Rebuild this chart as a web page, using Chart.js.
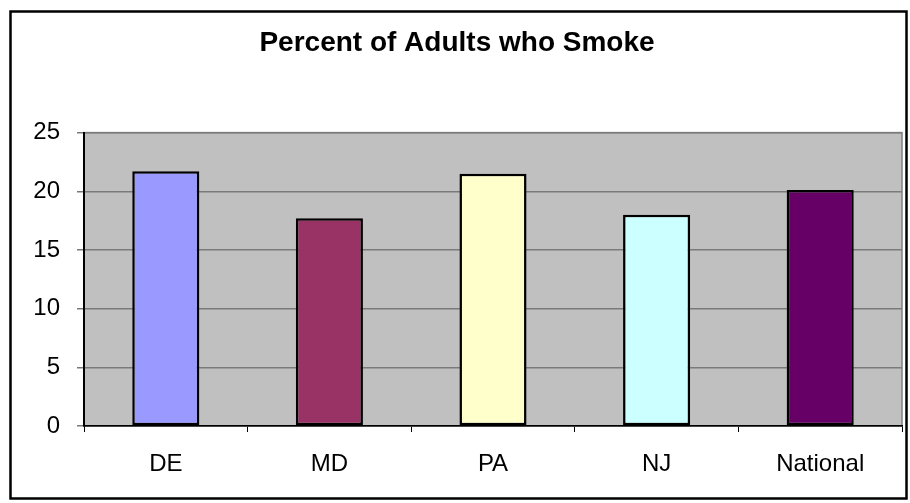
<!DOCTYPE html>
<html>
<head>
<meta charset="utf-8">
<script src="https://cdn.jsdelivr.net/npm/chart.js@4"></script>
<style>
  html, body { margin: 0; padding: 0; background: #fff; }
  #wrap { width: 910px; height: 503px; }
</style>
</head>
<body>
<div id="wrap"><canvas id="chart" width="910" height="503"></canvas></div>
<script>
const states = ["DE", "MD", "PA", "NJ", "National"];
const smokers = [21.7, 17.7, 21.5, 18.0, 20.1];
const barColors = ["#9999FF", "#993366", "#FFFFCC", "#CCFFFF", "#660066"];
const yTicks = [0, 5, 10, 15, 20, 25];

// gray plot area + outer frame
const frame = {
  id: "frame",
  beforeDraw(chart) {
    const { ctx, chartArea: a } = chart;
    ctx.save();
    ctx.fillStyle = "#C0C0C0";
    ctx.fillRect(a.left, a.top, a.right - a.left, a.bottom - a.top);
    ctx.strokeStyle = "#808080";
    ctx.lineWidth = 1.5;
    ctx.strokeRect(a.left, a.top, a.right - a.left, a.bottom - a.top);
    ctx.restore();
  },
  afterDraw(chart) {
    const ctx = chart.ctx;
    ctx.save();
    ctx.strokeStyle = "#000";
    ctx.lineWidth = 2.5;
    ctx.strokeRect(10.5, 11.5, 896, 487);
    ctx.restore();
  }
};

new Chart(document.getElementById("chart").getContext("2d"), {
  type: "bar",
  data: {
    labels: states,
    datasets: [{
      data: smokers,
      backgroundColor: barColors,
      borderColor: "#000",
      borderWidth: 2.5,
      borderSkipped: false,
      barPercentage: 0.41,
      categoryPercentage: 1.0
    }]
  },
  options: {
    responsive: false,
    animation: false,
    layout: { padding: { left: 12, right: 8, top: 0, bottom: 0 } },
    plugins: {
      legend: { display: false },
      tooltip: { enabled: false },
      title: {
        display: true,
        text: "Percent of Adults who Smoke",
        color: "#000",
        font: { family: "Liberation Sans, Arial, sans-serif", size: 28, weight: "bold" },
        padding: { top: 26, bottom: 73 }
      }
    },
    scales: {
      x: {
        grid: { drawOnChartArea: false, tickLength: 6, color: "#000" },
        border: { color: "#000", width: 1.5 },
        ticks: {
          color: "#000",
          padding: 18,
          font: { family: "Liberation Sans, Arial, sans-serif", size: 24 }
        },
        afterFit(scale) { scale.height = 77; }
      },
      y: {
        min: 0,
        max: 25,
        afterBuildTicks(scale) { scale.ticks = yTicks.map(v => ({ value: v })); },
        grid: { color: "#7A7A7A", tickLength: 7, lineWidth: 1.5 },
        border: { color: "#000", width: 2 },
        ticks: {
          color: "#000",
          padding: 17,
          font: { family: "Liberation Sans, Arial, sans-serif", size: 24 }
        },
        afterFit(scale) { scale.width = 72; }
      }
    }
  },
  plugins: [frame]
});
</script>
</body>
</html>
